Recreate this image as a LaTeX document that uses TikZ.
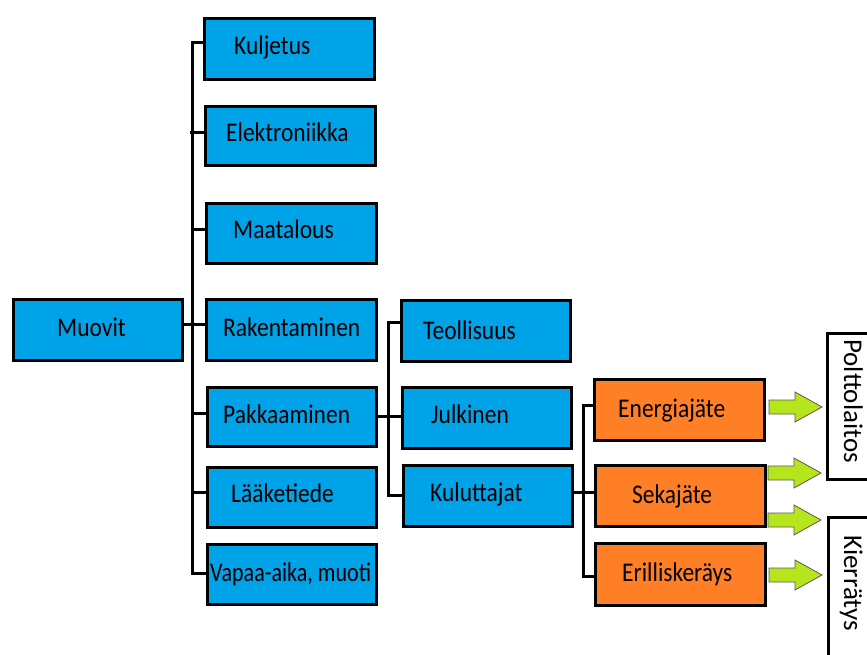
\documentclass[tikz,border=0pt]{standalone}
\usepackage{fontspec}
\setmainfont{Carlito}[FakeStretch=0.87]
\newfontfamily\rotfont{Carlito}
\definecolor{boxblue}{RGB}{0,162,232}
\definecolor{boxorange}{RGB}{255,127,39}
\definecolor{arrgreen}{RGB}{181,230,29}
\newcommand\bx[6]{\node[#2, minimum width={#5pt-#3pt}, minimum height={#6pt-#4pt}, anchor=north west] (#1) at (#3,#4) {};}
\tikzset{
  base/.style={draw=black, line width=2.8pt, inner sep=0pt, rectangle},
  bluebox/.style={base, fill=boxblue},
  orangebox/.style={base, fill=boxorange},
  whitebox/.style={base, fill=white},
  lbl/.style={inner sep=0pt, anchor=base west, font=\fontsize{27}{30}\selectfont},
  rlbl/.style={inner sep=0pt, anchor=base west, rotate=-90, font=\rotfont\fontsize{27}{30}\selectfont},
  conn/.style={draw=black, line width=3pt, line join=miter},
  garrow/.pic={\filldraw[fill=arrgreen, draw=black!65, line width=0.8pt]
     (0,-7) -- (26,-7) -- (26,-15) -- (53,0) -- (26,15) -- (26,7) -- (0,7) -- cycle;}
}
\begin{document}
\begin{tikzpicture}[x=1pt,y=-1pt]
\path[use as bounding box] (0,0) rectangle (867,655);
\clip (0,0) rectangle (867,655);
% boxes
\bx{muo}{bluebox}{12}{298}{181}{359}
\bx{kul}{bluebox}{203}{17}{373}{78}
\bx{ele}{bluebox}{204}{105}{374}{164}
\bx{maa}{bluebox}{205}{202}{375}{262}
\bx{rak}{bluebox}{205}{298}{375}{359}
\bx{pak}{bluebox}{206}{386}{375}{445}
\bx{laa}{bluebox}{206}{466}{375}{526}
\bx{vap}{bluebox}{206}{543}{375}{603}
\bx{teo}{bluebox}{400}{299}{569}{360}
\bx{jul}{bluebox}{401}{386}{570}{447}
\bx{kut}{bluebox}{402}{464}{571}{525}
\bx{ene}{orangebox}{593}{378}{763}{439}
\bx{sek}{orangebox}{594}{464}{764}{525}
\bx{eri}{orangebox}{594}{542}{764}{604}
\bx{pol}{whitebox}{826}{332}{885}{478}
\bx{kie}{whitebox}{827}{516}{885}{700}
% labels
\node[lbl] (tmuo) at (57,336.5) {Muovit};
\node[lbl] (tkul) at (234,54.3) {Kuljetus};
\node[lbl] (tele) at (226,141.7) {Elektroniikka};
\node[lbl] (tmaa) at (233,238.3) {Maatalous};
\node[lbl] (trak) at (223,336.7) {Rakentaminen};
\node[lbl] (tpak) at (223,423.3) {Pakkaaminen};
\node[lbl] (tlaa) at (231,502.3) {Lääketiede};
\node[lbl] (tvap) at (210,581.7) {\scalebox{0.94}[1]{Vapaa-aika, muoti}};
\node[lbl] (tteo) at (423,339) {Teollisuus};
\node[lbl] (tjul) at (431,423.3) {Julkinen};
\node[lbl] (tkut) at (430,501.7) {Kuluttajat};
\node[lbl] (tene) at (618,417.7) {Energiajäte};
\node[lbl] (tsek) at (632,503.3) {Sekajäte};
\node[lbl] (teri) at (622,581) {Erilliskeräys};
\node[rlbl] (tpol) at (844,339) {Polttolaitos};
\node[rlbl] (tkie) at (844,535) {Kierrätys};
% bus 1
\coordinate (b1t) at (192,43);
\coordinate (b1b) at (192,573);
\coordinate (j1) at (192,324);
\draw[conn] (kul.west |- b1t) -- (b1t) -- (b1b) -- (vap.west |- b1b);
\draw[conn] ([xshift=-2pt]b1t |- 0,133) -- (ele.west |- 0,133);
\draw[conn] (b1t |- 0,229) -- (maa.west |- 0,229);
\draw[conn] (muo.east |- j1) -- (rak.west |- j1);
\draw[conn] (b1t |- 0,413) -- (pak.west |- 0,413);
\draw[conn] (b1t |- 0,492) -- (laa.west |- 0,492);
% bus 2
\coordinate (b2t) at (388,322);
\coordinate (b2b) at (388,495);
\coordinate (j2) at (388,416);
\draw[conn] (teo.west |- b2t) -- (b2t) -- (b2b) -- (kut.west |- b2b);
\draw[conn] (pak.east |- j2) -- (jul.west |- j2);
% bus 3
\coordinate (b3t) at (583,405);
\coordinate (b3b) at (583,576);
\coordinate (j3) at (583,492);
\draw[conn] (ene.west |- b3t) -- (b3t) -- (b3b) -- (eri.west |- b3b);
\draw[conn] (kut.east |- j3) -- (sek.west |- j3);
% green arrows
\pic at (769,407) {garrow};
\pic at (768,473) {garrow};
\pic at (768,520) {garrow};
\pic at (769,575) {garrow};
\end{tikzpicture}
\end{document}
